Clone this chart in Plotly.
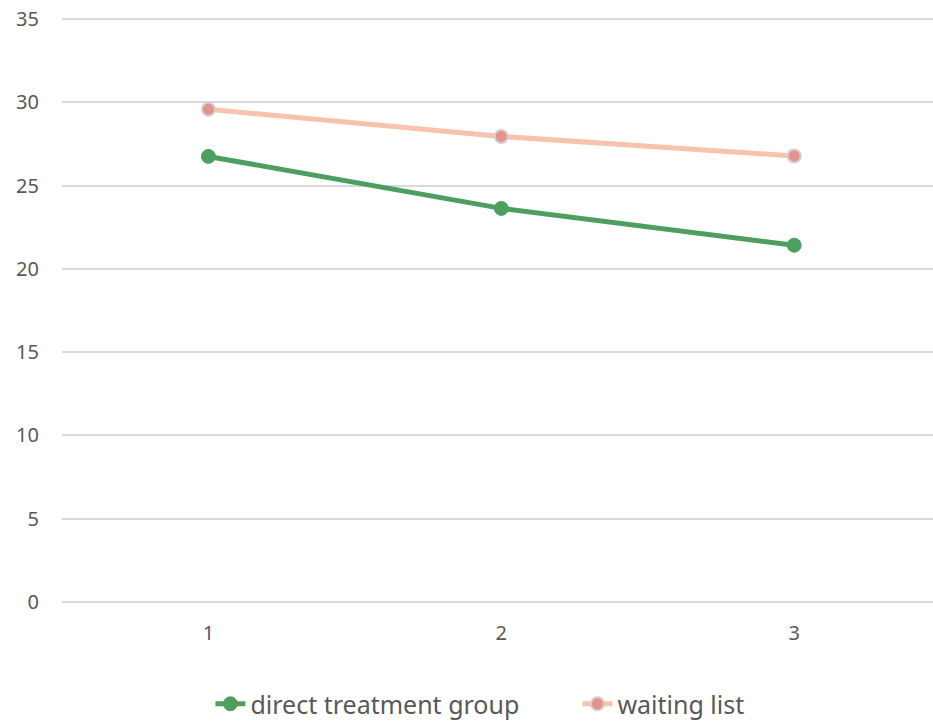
import plotly.graph_objects as go

categories = [1, 2, 3]
direct_treatment = [26.75, 23.63, 21.42]
waiting_list = [29.58, 27.95, 26.78]
y_ticks = [0, 5, 10, 15, 20, 25, 30, 35]

fig = go.Figure()
fig.add_trace(go.Scatter(
    x=categories, y=direct_treatment, name="direct treatment group",
    mode="lines+markers",
    line=dict(color="#4E9F5F", width=5),
    marker=dict(color="#4E9F5F", size=14, line=dict(color="#4E9F5F", width=1)),
))
fig.add_trace(go.Scatter(
    x=categories, y=waiting_list, name="waiting list",
    mode="lines+markers",
    line=dict(color="#F8C3AC", width=5),
    marker=dict(color="#E8918A", size=13, line=dict(color="#CFCFCF", width=2)),
))

font_family = "Noto Sans, Open Sans, sans-serif"
fig.update_layout(
    width=933, height=723,
    margin=dict(l=61.5, r=0, t=17, b=119, autoexpand=False),
    paper_bgcolor="white", plot_bgcolor="white",
    showlegend=True,
    legend=dict(orientation="h", x=0.1704, xanchor="left", y=-0.1704, yanchor="middle",
                font=dict(family=font_family, size=25, color="#595959"),
                entrywidth=322, tracegroupgap=0),
    xaxis=dict(range=[0.5, 3.474], tickvals=categories, ticktext=[str(c) for c in categories],
               showgrid=False, zeroline=False, showline=False, automargin=False,
               tickfont=dict(family=font_family, size=20, color="#595959"),
               ticks="outside", ticklen=11, tickcolor="rgba(0,0,0,0)"),
    yaxis=dict(range=[-0.12, 35.12], tickvals=y_ticks, showgrid=True, gridcolor="#D9D9D9", gridwidth=1.5,
               zeroline=False, showline=False, automargin=False, ticklabeloverflow="allow",
               tickfont=dict(family=font_family, size=20, color="#595959"),
               ticks="outside", ticklen=18, tickcolor="rgba(0,0,0,0)"),
)

fig.write_html("out.html", config={"displayModeBar": False},
               post_script="document.body.style.margin='0';document.body.style.overflow='hidden';")
